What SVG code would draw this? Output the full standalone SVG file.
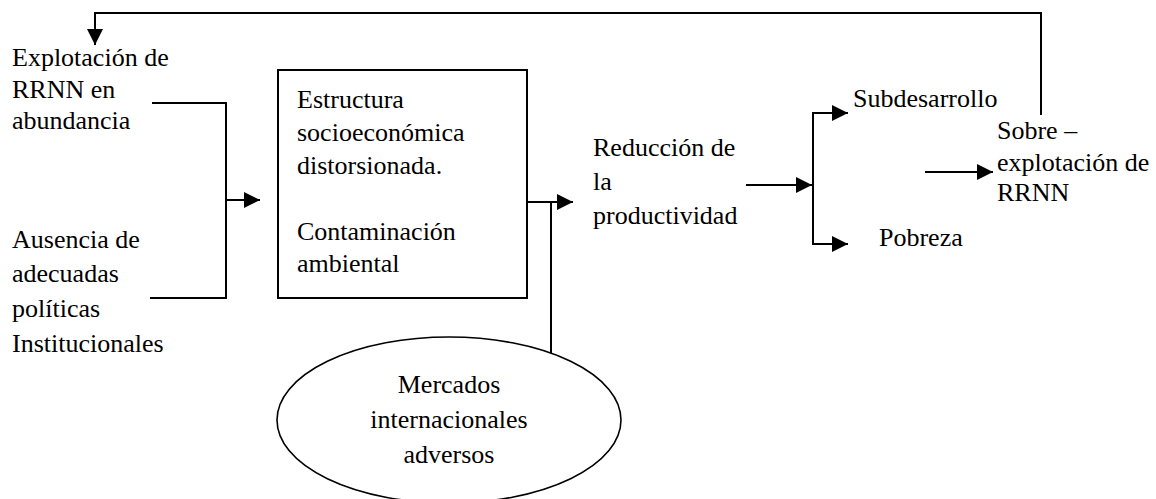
<svg xmlns="http://www.w3.org/2000/svg" width="1156" height="499" viewBox="0 0 1156 499">
<style>
.ln{fill:none;stroke:#000;stroke-width:2}
.ar{fill:none;stroke:#000;stroke-width:2;marker-end:url(#ah)}
.box{fill:#fff;stroke:#000;stroke-width:2}
</style>
<defs>
<marker id="ah" markerUnits="userSpaceOnUse" markerWidth="18" markerHeight="16" refX="16" refY="8" orient="auto">
<path d="M0,0 L16,8 L0,16 Z" fill="#000"/>
</marker>
</defs>
<g id="connectors">
<polyline class="ar" points="1041,115 1041,13 95,13 95,45"/>
<polyline class="ln" points="152,103 226,103 226,298 150,298"/>
<line class="ar" x1="226" y1="200" x2="260" y2="200"/>
<line class="ar" x1="527" y1="202" x2="573" y2="202"/>
<line class="ln" x1="551" y1="202" x2="551" y2="355"/>
<line class="ar" x1="746" y1="185" x2="812" y2="185"/>
<polyline class="ln" points="830,113 813,113 813,244 830,244"/>
<line class="ar" x1="813" y1="113" x2="848" y2="113"/>
<line class="ar" x1="813" y1="244" x2="848" y2="244"/>
<line class="ar" x1="925" y1="172" x2="993" y2="172"/>
</g>
<g font-family="Liberation Serif, Times New Roman, serif" font-size="26" fill="#000">
<g id="node-explotacion">
<text x="12" y="66">Explotación de</text>
<text x="12" y="98">RRNN en</text>
<text x="12" y="129">abundancia</text>
</g>
<g id="node-ausencia">
<text x="12" y="248">Ausencia de</text>
<text x="12" y="282">adecuadas</text>
<text x="12" y="317">políticas</text>
<text x="12" y="352">Institucionales</text>
</g>
<g id="node-estructura">
<rect class="box" x="278" y="70" width="249" height="228"/>
<text x="297" y="108">Estructura</text>
<text x="297" y="141">socioeconómica</text>
<text x="297" y="174">distorsionada.</text>
<text x="297" y="240">Contaminación</text>
<text x="297" y="272">ambiental</text>
</g>
<g id="node-mercados">
<ellipse class="box" cx="449" cy="420" rx="172" ry="83" style="stroke-width:1.6"/>
<text x="449" y="393" text-anchor="middle">Mercados</text>
<text x="449" y="428" text-anchor="middle">internacionales</text>
<text x="449" y="463" text-anchor="middle">adversos</text>
</g>
<g id="node-reduccion">
<text x="593" y="156">Reducción de</text>
<text x="593" y="190">la</text>
<text x="593" y="224">productividad</text>
</g>
<g id="node-subdesarrollo">
<text x="853" y="107">Subdesarrollo</text>
</g>
<g id="node-pobreza">
<text x="879" y="246">Pobreza</text>
</g>
<g id="node-sobre">
<text x="997" y="139">Sobre –</text>
<text x="997" y="171">explotación de</text>
<text x="997" y="201">RRNN</text>
</g>
</g>
</svg>
